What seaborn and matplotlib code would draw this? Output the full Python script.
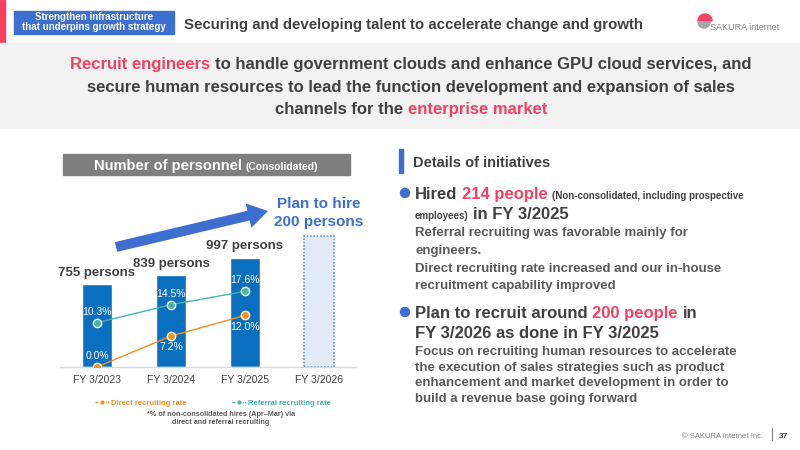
import matplotlib
matplotlib.use('Agg')
import matplotlib.pyplot as plt
from matplotlib import patches
from matplotlib.lines import Line2D
import seaborn as sns
import pandas as pd

# data
years = ['FY 3/2023', 'FY 3/2024', 'FY 3/2025', 'FY 3/2026']
personnel = [755, 839, 997, 1197]   # FY 3/2026 bar = 997 + 200 planned hires
personnel_labels = ['755 persons', '839 persons', '997 persons', '']
rate_pos = [0, 1, 2]
direct_rate = [0.0, 7.2, 12.0]
referral_rate = [10.3, 14.5, 17.6]
direct_side = [1, -1, -1]      # label above (1) / below (-1) the point
referral_side = [1, 1, 1]

DARK = '#404040'
BODY = '#595959'
RED = '#f5405f'
BLUE = '#3d6fd1'
BAR = '#0b6fc0'
PLAN_FILL = '#e3eaf7'
PLAN_EDGE = '#5b9bd5'
ORANGE = '#f4901e'
TEAL = '#43b5ab'

sns.set_theme(style='white')
plt.rcParams['font.family'] = ['Liberation Sans', 'DejaVu Sans']

fig = plt.figure(figsize=(8, 4.5), dpi=100)
fig.patch.set_facecolor('white')

# full-slide layer in pixel units (y down)
deco = fig.add_axes([0, 0, 1, 1], zorder=0)
deco.set_xlim(0, 800)
deco.set_ylim(450, 0)
deco.axis('off')
renderer = fig.canvas.get_renderer()


def rich(x, y, parts, ha='left'):
    """parts: list of (text, color, size); parts are separated by a space"""
    texts = []
    cur = 0
    for k, (s, c, fs) in enumerate(parts):
        if k > 0:
            cur += 0.278 * max(fs, parts[k - 1][2]) * 100 / 72
        t = deco.text(cur, y, s, color=c, fontsize=fs, fontweight='bold', va='baseline', ha='left')
        w = t.get_window_extent(renderer).width
        texts.append((t, cur))
        cur += w
    x0 = x - cur / 2 if ha == 'center' else x
    for t, off in texts:
        t.set_x(x0 + off)


# header
deco.add_patch(patches.Rectangle((0, 0), 5, 43, color=RED))
deco.add_patch(patches.Rectangle((14, 11), 160, 23, color=BLUE))
deco.text(94, 17.5, 'Strengthen infrastructure', color='white', fontsize=7, fontweight='bold', ha='center', va='center')
deco.text(94, 26.5, 'that underpins growth strategy', color='white', fontsize=7, fontweight='bold', ha='center', va='center')
deco.text(184, 29, 'Securing and developing talent to accelerate change and growth', color=DARK,
          fontsize=10.8, fontweight='bold', va='baseline')
deco.add_patch(patches.Wedge((705, 21), 7, 180, 360, color=RED))
deco.add_patch(patches.Wedge((704, 22), 6, 0, 180, color='#a6a6a6'))
deco.text(710, 27.5, 'SAKURA internet', color='#7f7f7f', fontsize=6.5, va='center')

# message band
deco.add_patch(patches.Rectangle((0, 43), 800, 85, color='#f2f2f2'))
rich(411, 69, [('Recruit engineers', RED, 12),
               ('to handle government clouds and enhance GPU cloud services, and', DARK, 12)], ha='center')
rich(411, 92, [('secure human resources to lead the function development and expansion of sales', DARK, 12)], ha='center')
rich(411, 114, [('channels for the', DARK, 12), ('enterprise market', RED, 12)], ha='center')

# chart title
deco.add_patch(patches.Rectangle((63, 154), 287, 21, color='#7f7f7f'))
rich(206, 170, [('Number of personnel', 'white', 10.5), ('(Consolidated)', 'white', 7.5)], ha='center')

# growth arrow and plan text
deco.add_patch(patches.FancyArrow(116, 247, 152, -36, width=10, head_width=25, head_length=20,
                                  length_includes_head=True, color=BLUE, lw=0))
deco.text(319, 208, 'Plan to hire', color=BLUE, fontsize=11, fontweight='bold', ha='center', va='baseline')
deco.text(319, 226, '200 persons', color=BLUE, fontsize=11, fontweight='bold', ha='center', va='baseline')

# bars
ax = fig.add_axes([60 / 800, 1 - 367 / 450, 296 / 800, 153 / 450], zorder=2)
ax.patch.set_alpha(0)
df_bar = pd.DataFrame({'year': years, 'persons': personnel})
sns.barplot(data=df_bar, x='year', y='persons', hue='year', palette=[BAR, BAR, BAR, PLAN_FILL],
            legend=False, width=0.41, saturation=1, ax=ax)
plan = ax.patches[3]
plan.set_edgecolor(PLAN_EDGE)
plan.set_linestyle((0, (1, 1)))
plan.set_linewidth(1.2)
ax.set_ylim(0, 1400)
for s in ['top', 'right', 'left']:
    ax.spines[s].set_visible(False)
ax.spines['bottom'].set_color('#d9d9d9')
ax.spines['bottom'].set_linewidth(1)
ax.set_yticks([])
ax.set_xlabel('')
ax.set_ylabel('')
ax.tick_params(axis='x', length=0, pad=5.5, labelsize=7.5, labelcolor=DARK)
for i, (v, lab) in enumerate(zip(personnel, personnel_labels)):
    ax.annotate(lab, (i, v), xytext=(0, 8.5), textcoords='offset points', ha='center', va='center',
                fontsize=9.5, fontweight='bold', color=DARK)

# recruiting rates
ax2 = ax.twinx()
df_rate = pd.DataFrame({'pos': rate_pos * 2, 'rate': direct_rate + referral_rate,
                        'series': ['Direct recruiting rate'] * 3 + ['Referral recruiting rate'] * 3})
sns.lineplot(data=df_rate, x='pos', y='rate', hue='series', palette=[ORANGE, TEAL], marker='o',
             markersize=6, markeredgecolor='white', markeredgewidth=1, linewidth=1, legend=False, ax=ax2)
ax2.set_ylim(0, 35.6)
ax2.axis('off')
ax.set_xlim(-0.5, 3.5)
for vals, sides in [(direct_rate, direct_side), (referral_rate, referral_side)]:
    for i, (v, sd) in enumerate(zip(vals, sides)):
        ax2.annotate(f'{v:.1f}%', (rate_pos[i], v), xytext=(0, 8 * sd), textcoords='offset points',
                     ha='center', va='center', fontsize=7.5, color='white')

handles = [Line2D([], [], color=ORANGE, marker='o', markersize=4, markeredgecolor='white', lw=1, linestyle=(0, (2, 1))),
           Line2D([], [], color=TEAL, marker='o', markersize=4, markeredgecolor='white', lw=1, linestyle=(0, (2, 1)))]
fig.legend(handles, ['Direct recruiting rate', 'Referral recruiting rate'], loc='center',
           bbox_to_anchor=(213 / 800, 1 - 403 / 450), ncol=2, frameon=False,
           prop={'size': 5.5, 'weight': 'bold'}, labelcolor=[ORANGE, TEAL],
           handlelength=1.8, handletextpad=0.3, columnspacing=6)
deco.text(221, 414, '*% of non-consolidated hires (Apr–Mar) via', ha='center', va='center',
          fontsize=5.2, fontweight='bold', color=BODY)
deco.text(221, 423, 'direct and referral recruiting', ha='center', va='center',
          fontsize=5.2, fontweight='bold', color=BODY)

# right panel
deco.add_patch(patches.Rectangle((399, 149), 4, 24, color=BLUE))
deco.text(413, 167, 'Details of initiatives', color=DARK, fontsize=10.5, fontweight='bold', va='baseline')

deco.add_patch(patches.Circle((405, 193), 4.5, color=BLUE))
rich(415, 199, [('Hired', DARK, 12), ('214 people', RED, 12),
                ('(Non-consolidated, including prospective', DARK, 7)])
rich(415, 219, [('employees)', DARK, 7), ('in FY 3/2025', DARK, 12)])
for yy, line in zip([236, 254, 272, 289],
                    ['Referral recruiting was favorable mainly for', 'engineers.',
                     'Direct recruiting rate increased and our in-house', 'recruitment capability improved']):
    deco.text(415, yy, line, color=BODY, fontsize=9.5, fontweight='bold', va='baseline')

deco.add_patch(patches.Circle((405, 312), 4.5, color=BLUE))
rich(415, 318, [('Plan to recruit around', DARK, 12), ('200 people', RED, 12), ('in', DARK, 12)])
rich(415, 338, [('FY 3/2026 as done in FY 3/2025', DARK, 12)])
for yy, line in zip([355, 371, 386, 402],
                    ['Focus on recruiting human resources to accelerate',
                     'the execution of sales strategies such as product',
                     'enhancement and market development in order to',
                     'build a revenue base going forward']):
    deco.text(415, yy, line, color=BODY, fontsize=9.5, fontweight='bold', va='baseline')

# footer
deco.text(763, 436, '© SAKURA internet Inc.', color='#7f7f7f', fontsize=5.5, ha='right', va='center')
deco.plot([772, 772], [428, 440], color='#7f7f7f', lw=0.8)
deco.text(779, 436, '37', color=DARK, fontsize=6, fontweight='bold', va='center')

fig.savefig('out.png', dpi=100)
